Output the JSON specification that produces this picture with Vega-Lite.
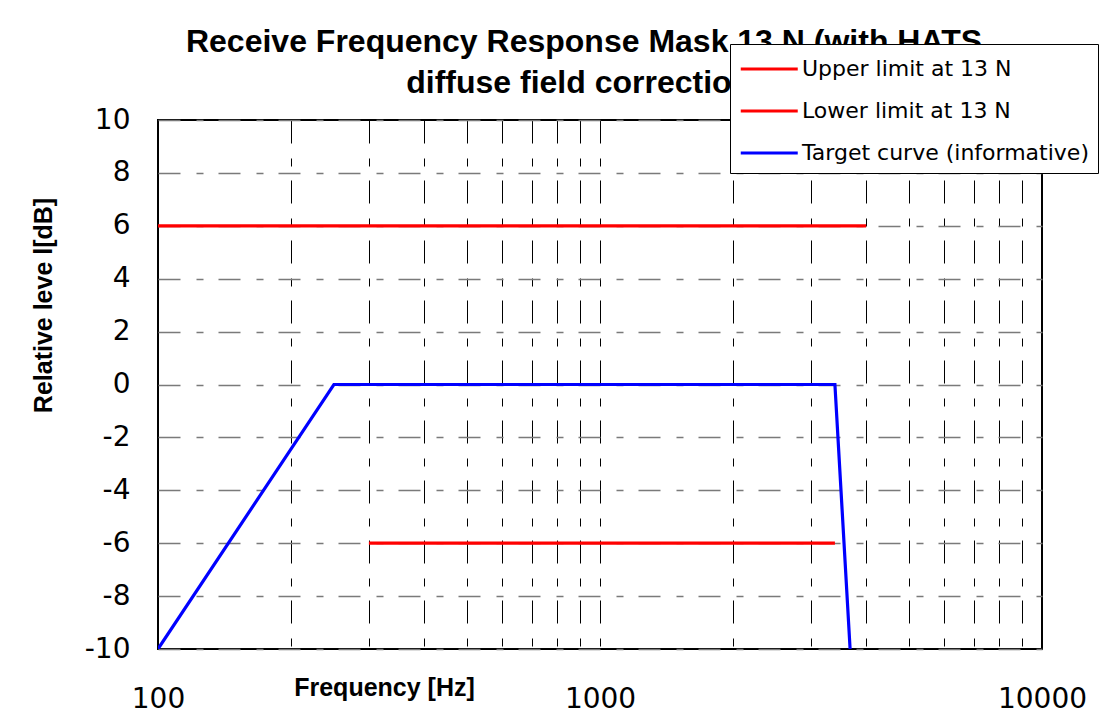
{
  "$schema": "https://vega.github.io/schema/vega-lite/v6.json",
  "autosize": {"type": "none"},
  "padding": {"left": 158, "top": 120, "right": 66, "bottom": 66},
  "width": 884,
  "height": 529,
  "background": "white",
  "title": {
    "text": ["Receive Frequency Response Mask 13 N (with HATS", "diffuse field correction)"],
    "font": "Liberation Sans",
    "fontWeight": "bold",
    "fontSize": 32,
    "lineHeight": 41,
    "anchor": "middle",
    "dx": -16,
    "dy": 70,
    "color": "black",
    "offset": 14
  },
  "data": {
    "values": [
      {"series": "Upper limit at 13 N", "order": 1, "freq": 100, "level": 6},
      {"series": "Upper limit at 13 N", "order": 2, "freq": 4000, "level": 6},
      {"series": "Lower limit at 13 N", "order": 1, "freq": 300, "level": -6},
      {"series": "Lower limit at 13 N", "order": 2, "freq": 3400, "level": -6},
      {"series": "Target curve (informative)", "order": 1, "freq": 100, "level": -10},
      {"series": "Target curve (informative)", "order": 2, "freq": 250, "level": 0},
      {"series": "Target curve (informative)", "order": 3, "freq": 3400, "level": 0},
      {"series": "Target curve (informative)", "order": 4, "freq": 3680, "level": -10}
    ]
  },
  "mark": {"type": "line", "strokeWidth": 3.2, "clip": true},
  "encoding": {
    "x": {
      "field": "freq",
      "type": "quantitative",
      "scale": {"type": "log", "domain": [100, 10000], "nice": false},
      "axis": {
        "title": "Frequency [Hz]",
        "values": [100, 200, 300, 400, 500, 600, 700, 800, 900, 1000, 2000, 3000, 4000, 5000, 6000, 7000, 8000, 9000, 10000],
        "labelExpr": "(datum.value == 100 || datum.value == 1000 || datum.value == 10000) ? format(datum.value, 'd') : ''",
        "labelOverlap": false,
        "labelBound": false,
        "labelFlush": false,
        "labelFont": "DejaVu Sans",
        "labelFontSize": 28,
        "labelColor": "black",
        "labelPadding": 36,
        "ticks": false,
        "tickSize": 0,
        "domain": false,
        "grid": true,
        "gridColor": "black",
        "gridWidth": 1,
        "gridDash": [23, 15, 8, 14],
        "titleFont": "Liberation Sans",
        "titleFontWeight": "bold",
        "titleFontSize": 25,
        "titleColor": "black",
        "titleX": 226,
        "titleY": 46,
        "titleAlign": "center",
        "titleBaseline": "alphabetic"
      }
    },
    "y": {
      "field": "level",
      "type": "quantitative",
      "scale": {"domain": [-10, 10], "nice": false, "zero": false},
      "axis": {
        "title": "Relative leve l[dB]",
        "values": [-10, -8, -6, -4, -2, 0, 2, 4, 6, 8, 10],
        "labelExpr": "'' + datum.value",
        "labelFont": "DejaVu Sans",
        "labelFontSize": 28,
        "labelColor": "black",
        "labelPadding": 28,
        "labelOverlap": false,
        "labelBound": false,
        "labelFlush": false,
        "ticks": false,
        "tickSize": 0,
        "domain": false,
        "grid": true,
        "gridColor": "#7a7a7a",
        "gridWidth": 1.5,
        "gridDash": [22, 16, 7, 15],
        "titleFont": "Liberation Sans",
        "titleFontWeight": "bold",
        "titleFontSize": 25,
        "titleColor": "black",
        "titleX": -107,
        "titleY": 185,
        "titleAlign": "center",
        "titleBaseline": "alphabetic",
        "titleAngle": -90
      }
    },
    "color": {
      "field": "series",
      "type": "nominal",
      "scale": {
        "domain": ["Upper limit at 13 N", "Lower limit at 13 N", "Target curve (informative)"],
        "range": ["#ff0000", "#ff0000", "#0000ff"]
      },
      "legend": {
        "title": null,
        "orient": "none",
        "legendX": 572,
        "legendY": -76,
        "zindex": 1,
        "fillColor": "white",
        "strokeColor": "black",
        "padding": 9,
        "symbolType": "M-1,0H3",
        "symbolSize": 812,
        "symbolStrokeWidth": 3,
        "labelOffset": 31,
        "labelFont": "DejaVu Sans",
        "labelFontSize": 22,
        "labelColor": "black",
        "labelLimit": 400,
        "rowPadding": 15
      }
    },
    "order": {"field": "order", "type": "quantitative"}
  },
  "config": {
    "view": {"stroke": "black", "strokeWidth": 2}
  }
}
